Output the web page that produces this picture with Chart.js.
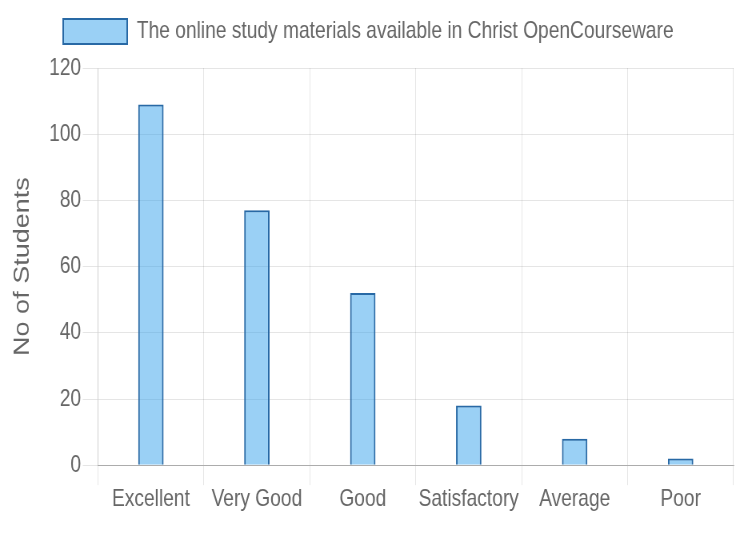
<!DOCTYPE html>
<html>
<head>
<meta charset="utf-8">
<script src="https://cdn.jsdelivr.net/npm/chart.js@4"></script>
<style>
  html, body { margin: 0; padding: 0; overflow: hidden; background: #fff; }
  /* the reference looks squeezed sideways, so draw wide and scale down */
  #wrap { width: 939px; height: 540px; transform: scaleX(0.8); transform-origin: 0 0; }
</style>
</head>
<body>
<div id="wrap"><canvas id="feedbackChart"></canvas></div>
<script>
var categories = ["Excellent", "Very Good", "Good", "Satisfactory", "Average", "Poor"];
var studentCounts = [109, 77, 52, 18, 8, 2];
var seriesLabel = "The online study materials available in Christ OpenCourseware";
var yTicks = [0, 20, 40, 60, 80, 100, 120];

Chart.defaults.font.family = "'Liberation Sans', Arial, sans-serif";
Chart.defaults.color = "#666";

// extra room under the legend
var legendGap = {
  id: "legendGap",
  beforeInit: function (chart) {
    var fit = chart.legend.fit;
    chart.legend.fit = function () {
      fit.call(this);
      this.height += 14;
    };
  },
};

var ctx = document.getElementById("feedbackChart").getContext("2d");
var feedbackChart = new Chart(ctx, {
  type: "bar",
  data: {
    labels: categories,
    datasets: [
      {
        label: seriesLabel,
        data: studentCounts,
        backgroundColor: "rgba(54, 162, 235, 0.5)",
        borderColor: "rgb(40, 105, 165)",
        borderWidth: 2,
        barPercentage: 0.24,
        categoryPercentage: 1,
      },
    ],
  },
  options: {
    responsive: true,
    maintainAspectRatio: false,
    animation: false,
    layout: { padding: { left: 4, right: 22, top: 7, bottom: 26 } },
    plugins: {
      legend: {
        labels: {
          font: { size: 24 },
          boxWidth: 80,
          boxHeight: 25,
          padding: 12,
        },
      },
      tooltip: { enabled: false },
    },
    scales: {
      x: {
        grid: { color: "rgba(0,0,0,0.1)", tickLength: 20 },
        border: { color: "rgba(0,0,0,0.25)" },
        ticks: { font: { size: 24 }, maxRotation: 0, autoSkip: false, padding: 0 },
      },
      y: {
        min: yTicks[0],
        max: yTicks[yTicks.length - 1],
        grid: { color: "rgba(0,0,0,0.1)", tickLength: 19 },
        border: { color: "rgba(0,0,0,0.1)" },
        ticks: { font: { size: 24 }, stepSize: 20, padding: 2 },
        title: {
          display: true,
          text: "No of Students",
          font: { size: 27 },
          padding: { top: 8, bottom: 15 },
        },
      },
    },
  },
  plugins: [legendGap],
});
</script>
</body>
</html>
